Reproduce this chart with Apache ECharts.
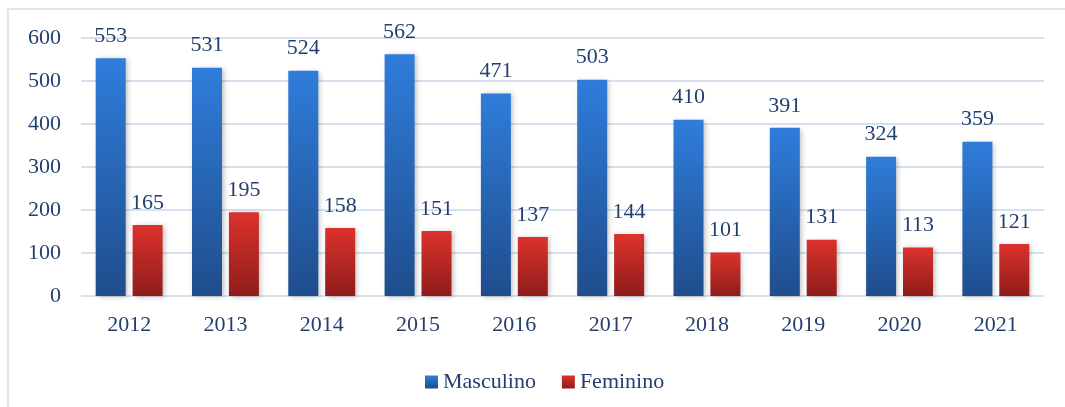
<!DOCTYPE html>
<html>
<head>
<meta charset="utf-8">
<script src="https://cdn.jsdelivr.net/npm/echarts@6/dist/echarts.min.js"></script>
<style>
  html,body{margin:0;padding:0;background:#fff}
  #box{position:absolute;left:7px;top:8px;width:1070px;height:410px;border:2px solid #dbe5f3;box-sizing:border-box}
  #chart{width:1065px;height:407px}
</style>
</head>
<body>
<div id="box"></div>
<div id="chart"></div>
<script>
  var anos = ['2012','2013','2014','2015','2016','2017','2018','2019','2020','2021'];
  var masculino = [553, 531, 524, 562, 471, 503, 410, 391, 324, 359];
  var feminino = [165, 195, 158, 151, 137, 144, 101, 131, 113, 121];

  var txt = '#233f6e';
  var fonte = '"Liberation Serif", "DejaVu Serif", serif';

  function grad(c1, c2){
    return new echarts.graphic.LinearGradient(0, 0, 0, 1, [
      {offset: 0, color: c1}, {offset: 1, color: c2}
    ]);
  }

  var chart = echarts.init(document.getElementById('chart'));
  var rotulo = {show: true, position: 'top', distance: 11, color: txt, fontFamily: fonte, fontSize: 22};
  chart.setOption({
    animation: false,
    grid: {left: 81, right: 21, top: 38, bottom: 111},
    legend: {
      data: ['Masculino', 'Feminino'],
      icon: 'rect',
      left: 420, top: 366,
      itemWidth: 13, itemHeight: 13, itemGap: 26,
      textStyle: {color: txt, fontFamily: fonte, fontSize: 22}
    },
    xAxis: {
      type: 'category', data: anos,
      axisLine: {show: false}, axisTick: {show: false},
      axisLabel: {color: txt, fontFamily: fonte, fontSize: 22, margin: 18}
    },
    yAxis: {
      type: 'value', min: 0, max: 600, interval: 100,
      axisLine: {show: false}, axisTick: {show: false},
      axisLabel: {color: txt, fontFamily: fonte, fontSize: 22, margin: 20},
      splitLine: {lineStyle: {color: '#d6e1f0', width: 2}}
    },
    series: [
      {
        name: 'Masculino', type: 'bar', data: masculino,
        barWidth: 30, barGap: '23%',
        itemStyle: {color: grad('#2f7ddb', '#1f4d8c'), shadowColor: 'rgba(0,0,0,0.25)', shadowBlur: 5, shadowOffsetX: 2, shadowOffsetY: 1},
        label: rotulo
      },
      {
        name: 'Feminino', type: 'bar', data: feminino,
        barWidth: 30,
        itemStyle: {color: grad('#dc322c', '#8f1c1a'), shadowColor: 'rgba(0,0,0,0.25)', shadowBlur: 5, shadowOffsetX: 2, shadowOffsetY: 1},
        label: rotulo
      }
    ]
  });
</script>
</body>
</html>
